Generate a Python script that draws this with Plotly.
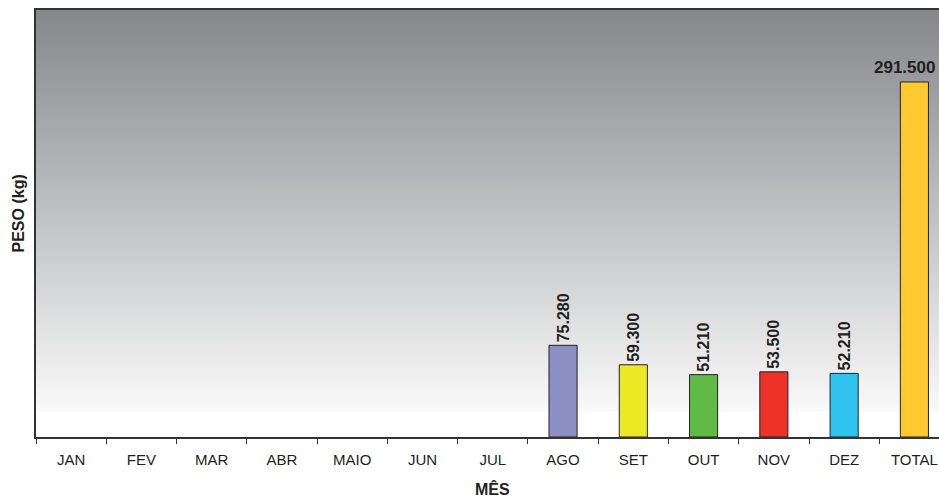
import base64
import plotly.graph_objects as go

months = ["JAN", "FEV", "MAR", "ABR", "MAIO", "JUN", "JUL", "AGO", "SET", "OUT", "NOV", "DEZ"]
month_values = [None, None, None, None, None, None, None, 75280, 59300, 51210, 53500, 52210]
month_colors = ["#8b8fc4"] * 7 + ["#8b8fc4", "#ece824", "#5fba46", "#ee3129", "#2ec4ef"]
total_label = "TOTAL"
total_value = 291500
total_color = "#fec82f"
categories = months + [total_label]

svg = (
    '<svg xmlns="http://www.w3.org/2000/svg" width="100" height="427" preserveAspectRatio="none">'
    '<defs><linearGradient id="g" x1="0" y1="0" x2="0" y2="1">'
    '<stop offset="0" stop-color="#86878b"/>'
    '<stop offset="0.45" stop-color="#b9babc"/>'
    '<stop offset="1" stop-color="#f9f9f9"/>'
    '</linearGradient></defs>'
    '<rect x="0" y="0" width="100" height="401" fill="url(#g)"/>'
    '<rect x="0" y="401" width="100" height="26" fill="#ffffff"/>'
    '</svg>'
)
svg_uri = "data:image/svg+xml;base64," + base64.b64encode(svg.encode()).decode()

FONT = "Liberation Sans, Arial, sans-serif"

fig = go.Figure()
fig.add_trace(go.Bar(
    x=months, y=month_values,
    marker=dict(color=month_colors, line=dict(color="#222222", width=1)),
    width=0.4,
    texttemplate="<b>%{y:,.0f}</b>", textposition="outside", textangle=-90,
    constraintext="none",
    textfont=dict(family=FONT, size=16, color="#231f20"),
    cliponaxis=False, showlegend=False,
))
fig.add_trace(go.Bar(
    x=[total_label], y=[total_value],
    marker=dict(color=total_color, line=dict(color="#222222", width=1)),
    width=0.4, showlegend=False,
))

total_text = f"{total_value:,}".replace(",", ".")

fig.update_layout(
    width=939, height=497,
    margin=dict(l=36, r=0, t=10, b=60),
    paper_bgcolor="white", plot_bgcolor="rgba(0,0,0,0)",
    separators=",.",
    barmode="overlay",
    font=dict(family=FONT, color="#231f20"),
    images=[dict(source=svg_uri, xref="paper", yref="paper", x=0, y=1,
                 sizex=1, sizey=1, sizing="stretch", layer="below", xanchor="left", yanchor="top")],
    xaxis=dict(type="category", categoryorder="array", categoryarray=categories,
               range=[-0.5, 12.35], showline=True, linecolor="#333333", linewidth=1.5,
               mirror=True, ticks="outside", tickson="boundaries", ticklen=5,
               tickcolor="#333333", tickfont=dict(size=15, color="#231f20"),
               ticklabelstandoff=8, showgrid=False, zeroline=False),
    yaxis=dict(range=[0, 350600], showline=True, linecolor="#333333", linewidth=1.5,
               showticklabels=False, ticks="", showgrid=False, zeroline=False),
    annotations=[
        dict(text="<b>" + total_text + "</b>", x=total_label, y=total_value,
             xref="x", yref="y", xanchor="center", yanchor="bottom",
             xshift=-10, yshift=3, showarrow=False,
             font=dict(size=17, color="#231f20")),
        dict(text="<b>PESO (kg)</b>", xref="paper", yref="paper", x=0, y=0.5,
             xanchor="center", yanchor="middle",
             xshift=-18, yshift=10, textangle=-90, showarrow=False,
             font=dict(size=16, color="#231f20")),
        dict(text="<b>MÊS</b>", xref="paper", yref="paper", x=0.5, y=0,
             xanchor="center", yanchor="middle",
             yshift=-52, xshift=5, showarrow=False, font=dict(size=16, color="#231f20")),
    ],
)
fig.write_html("out.html", config={"displayModeBar": False},
               post_script="document.body.style.margin='0';document.body.style.overflow='hidden';")
